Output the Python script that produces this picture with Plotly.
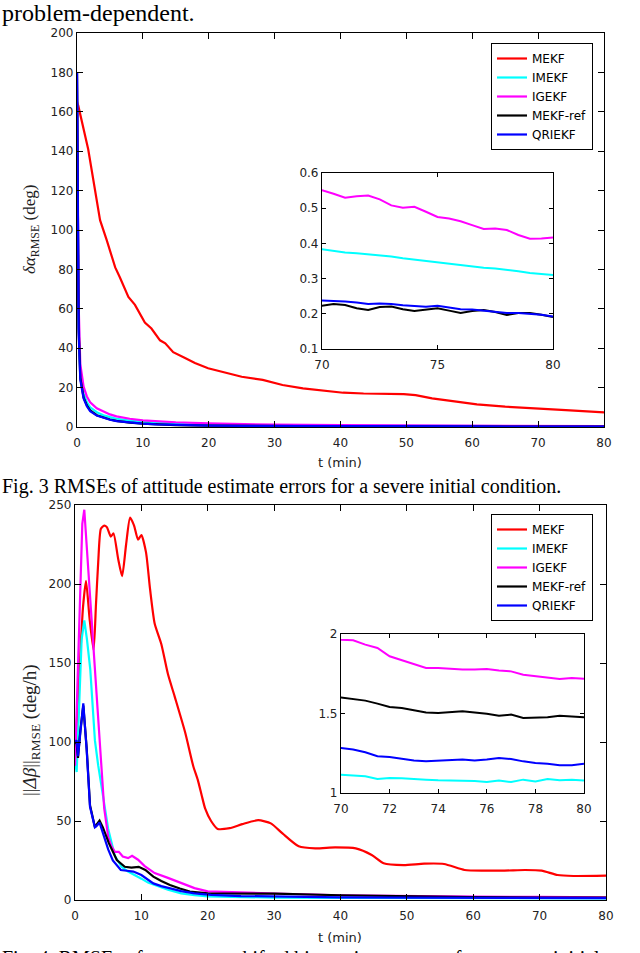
import plotly.graph_objects as go

W, H = 640, 953

# Fig. 3: attitude estimate RMSE (deg)
t_att_mekf = [0, 0.2, 1.7, 2.7, 3.5, 4.5, 5.8, 6.5, 7.8, 8.8, 10.3, 11.3, 12.6, 13.4, 14.6,
              16.4, 17.9, 19.9, 22, 25, 28.2, 31.2, 34.3, 37.4, 40.4, 43.5, 46.6, 49.6,
              51.4, 53.9, 57.6, 60.7, 65, 69.9, 74.2, 80]
att_mekf = [165, 163, 141, 120, 105, 95, 81, 76, 66, 62, 53, 50, 44, 42.5, 38,
            35, 32.5, 29.8, 28, 25.5, 23.9, 21.3, 19.6, 18.4, 17.4, 17, 16.8, 16.7,
            16.2, 14.5, 12.9, 11.5, 10.3, 9.5, 8.6, 7.4]

t_att = [0, 0.1, 0.25, 0.5, 0.75, 1, 1.5, 2, 3, 4, 5, 6, 8, 10, 12, 15, 20, 25, 30, 40, 50, 60,
         70, 70.5, 71, 71.5, 72, 72.5, 73, 73.5, 74, 74.5, 75, 75.5, 76, 76.5, 77, 77.5,
         78, 78.5, 79, 79.5, 80]
att_imekf = [180, 110, 55, 28, 21, 17, 12.5, 10, 7.5, 6, 5, 4.2, 3.2, 2.6, 2.2, 1.8, 1.3, 1.0,
             0.85, 0.7, 0.58, 0.48,
             0.382, 0.377, 0.374, 0.372, 0.369, 0.368, 0.363, 0.358, 0.354, 0.350, 0.346,
             0.342, 0.338, 0.334, 0.331, 0.329, 0.326, 0.321, 0.316, 0.314, 0.310]
att_igekf = [180, 120, 62, 32, 25, 20.5, 15.5, 12.5, 9.5, 7.8, 6.4, 5.4, 4.2, 3.4, 2.9, 2.4,
             1.8, 1.45, 1.2, 0.95, 0.8, 0.68,
             0.551, 0.541, 0.530, 0.534, 0.536, 0.525, 0.508, 0.501, 0.504, 0.490, 0.475,
             0.471, 0.463, 0.452, 0.441, 0.442, 0.438, 0.424, 0.413, 0.414, 0.417]
att_mekf_ref = [180, 100, 50, 25, 19, 15, 11, 8.5, 6, 4.8, 3.8, 3.1, 2.2, 1.7, 1.3, 1.0, 0.7,
                0.55, 0.45, 0.35, 0.3, 0.26,
                0.223, 0.228, 0.225, 0.216, 0.211, 0.219, 0.221, 0.213, 0.208, 0.211, 0.216,
                0.209, 0.202, 0.208, 0.211, 0.205, 0.197, 0.202, 0.202, 0.197, 0.191]
att_qriekf = [180, 98, 48, 24, 18.5, 14.5, 10.5, 8, 5.8, 4.6, 3.7, 3.0, 2.2, 1.7, 1.3, 1.0,
              0.72, 0.56, 0.47, 0.37, 0.31, 0.27,
              0.238, 0.237, 0.235, 0.232, 0.228, 0.229, 0.228, 0.224, 0.221, 0.220, 0.223,
              0.219, 0.213, 0.212, 0.209, 0.207, 0.202, 0.202, 0.200, 0.197, 0.192]

# Fig. 4: gyro bias estimate RMSE (deg/h)
t_inset = [70, 70.5, 71, 71.5, 72, 72.5, 73, 73.5, 74, 74.5, 75, 75.5, 76, 76.5, 77, 77.5,
           78, 78.5, 79, 79.5, 80]

t_bias_mekf = [0, 0.3, 0.65, 1.2, 1.66, 2.2, 2.8, 3.16, 3.5, 3.9, 4.4, 4.8, 5.4, 5.8, 6.5,
               7.1, 7.7, 8.3, 8.9, 9.5, 10.0, 10.7, 11.3, 12.0, 13.0, 14.0, 15.0, 16.6,
               17.8, 18.5, 19.1, 19.6, 20.5, 21.5, 23.3, 25.2, 27.6, 29.5, 31.3, 33.7,
               36.2, 39.2, 42.3, 44.7, 46.5, 49.5, 52.6, 55.6, 58.7, 61.7, 64.7, 67.8,
               70.3, 72.7, 75.1, 80]
bias_mekf = [95, 115, 142, 185, 202, 178, 158, 187, 214, 235, 237, 236, 230, 232, 216,
             205, 225, 242, 237, 228, 231, 220, 197, 175, 162, 143, 129, 106,
             85, 76, 66, 58, 50, 45, 45.5, 48, 50.5, 48.5, 42, 34,
             32.7, 33.3, 32.7, 28.5, 23.2, 22.1, 23, 22.8, 19, 18.6, 18.6, 19,
             18.6, 15.8, 15.2, 15.4]

t_bias_imekf = [0, 0.25, 0.6, 1.0, 1.4, 1.8, 2.3, 3.0, 3.5, 4.0, 4.5, 5.0, 6.0, 7.0, 8.0,
                9.0, 10, 11, 12, 14, 16, 18, 20, 25, 30, 40, 50, 60] + t_inset
bias_imekf = [88, 81, 120, 165, 177, 165, 146, 101, 85, 72, 57, 45, 28, 21, 18,
              16, 13.5, 11, 9.5, 6.5, 4.2, 3, 2.3, 1.8, 1.5, 1.3, 1.2, 1.15,
              1.115, 1.111, 1.105, 1.088, 1.094, 1.092, 1.090, 1.084, 1.080, 1.078, 1.078,
              1.075, 1.069, 1.078, 1.069, 1.084, 1.073, 1.088, 1.080, 1.084, 1.078]

t_bias_igekf = [0, 0.4, 0.8, 1.1, 1.4, 1.8, 2.2, 2.8, 3.5, 4.0, 4.4, 5.0, 5.5, 6.0, 6.6,
                7.2, 8.0, 8.6, 9.5, 10.5, 12, 14, 16, 18, 20, 25, 30, 40, 50, 60] + t_inset
bias_igekf = [85, 140, 205, 238, 247, 222, 195, 158, 112, 80, 58, 40, 34, 30.5, 30.5,
              27.5, 26.5, 28, 25.5, 21.5, 17, 14, 11, 7.5, 5.5, 4.6, 4.1, 3.0, 2.4, 2.1,
              1.964, 1.960, 1.933, 1.912, 1.860, 1.834, 1.807, 1.786, 1.786, 1.780, 1.776,
              1.776, 1.780, 1.771, 1.765, 1.744, 1.734, 1.723, 1.717, 1.723, 1.719]

t_bias_ref = [0, 0.25, 0.45, 0.8, 1.25, 1.76, 2.26, 3.0, 3.3, 3.7, 4.2, 5.1, 6.3, 7.5, 8.5,
              9.6, 10.6, 11.8, 13, 14.3, 15.8, 17.3, 20, 25, 30, 40, 50, 60] + t_inset
bias_mekf_ref = [100, 99, 90, 107, 123, 96, 60, 46, 48, 50.2, 46, 36, 25.3, 21, 20.5,
                 21, 19, 14.8, 12, 9.5, 7.3, 5.3, 4.2, 4.1, 4, 3, 2.2, 1.8,
                 1.597, 1.587, 1.581, 1.562, 1.541, 1.535, 1.520, 1.507, 1.503, 1.507, 1.514,
                 1.507, 1.499, 1.486, 1.493, 1.472, 1.472, 1.476, 1.486, 1.482, 1.476]

t_bias_qr = [0, 0.25, 0.45, 0.8, 1.25, 1.76, 2.26, 3.0, 3.3, 3.7, 4.2, 5.0, 5.7, 6.9, 7.8,
             8.8, 10, 11, 11.8, 13, 14.3, 16, 18, 20.5, 25, 30, 40, 50, 60] + t_inset
bias_qriekf = [100, 101, 91, 108, 124.5, 95, 59, 46, 47, 49, 42, 32, 25, 19, 18.5,
               18, 15.8, 13, 10.5, 8.8, 7.4, 5.6, 4.2, 3.2, 2.5, 2.1, 1.7, 1.5, 1.35,
               1.283, 1.273, 1.256, 1.231, 1.227, 1.214, 1.205, 1.199, 1.203, 1.205, 1.210,
               1.205, 1.210, 1.220, 1.214, 1.199, 1.189, 1.184, 1.174, 1.174, 1.184]

names = ["MEKF", "IMEKF", "IGEKF", "MEKF-ref", "QRIEKF"]
colors = ["#ff0000", "#00ffff", "#ff00ff", "#000000", "#0000ff"]

SANS = "DejaVu Sans"
SERIF = "Liberation Serif"


# pixel boxes -> paper fractions
def px_x(a, b):
    return [a / W, b / W]


def px_y(top, bottom):
    return [1 - bottom / H, 1 - top / H]


fig = go.Figure()

top_series = [
    (t_att_mekf, att_mekf),
    (t_att, att_imekf),
    (t_att, att_igekf),
    (t_att, att_mekf_ref),
    (t_att, att_qriekf),
]
bottom_series = [
    (t_bias_mekf, bias_mekf),
    (t_bias_imekf, bias_imekf),
    (t_bias_igekf, bias_igekf),
    (t_bias_ref, bias_mekf_ref),
    (t_bias_qr, bias_qriekf),
]

for (tx, ty), name, c in zip(top_series, names, colors):
    fig.add_trace(go.Scatter(x=tx, y=ty, mode="lines", name=name, legend="legend",
                             line=dict(color=c, width=2.2), xaxis="x", yaxis="y"))
for (tx, ty), name, c in zip(top_series, names, colors):
    fig.add_trace(go.Scatter(x=tx, y=ty, mode="lines", name=name, showlegend=False,
                             line=dict(color=c, width=2), xaxis="x2", yaxis="y2"))
for i, ((tx, ty), name, c) in enumerate(zip(bottom_series, names, colors)):
    # the MEKF humps are smooth in the original, the rest stay straight-segmented
    shape = "spline" if i == 0 else "linear"
    fig.add_trace(go.Scatter(x=tx, y=ty, mode="lines", name=name, legend="legend2",
                             line=dict(color=c, width=2.2, shape=shape, smoothing=0.6),
                             xaxis="x3", yaxis="y3"))
for (tx, ty), name, c in zip(bottom_series, names, colors):
    fig.add_trace(go.Scatter(x=tx, y=ty, mode="lines", name=name, showlegend=False,
                             line=dict(color=c, width=2), xaxis="x4", yaxis="y4"))


def axis(domain, rng, tickvals, anchor, ticklen=6, standoff=None):
    d = dict(domain=domain, range=rng, tickvals=tickvals, anchor=anchor,
             automargin=False,
             showline=True, linecolor="#000", linewidth=1.2, mirror="ticks",
             ticks="inside", ticklen=ticklen, tickcolor="#000", tickwidth=1,
             showgrid=False, zeroline=False,
             tickfont=dict(family=SANS, size=12, color="#222"))
    if standoff is not None:
        d["ticklabelstandoff"] = standoff
    return d


legend_style = dict(xanchor="right", yanchor="top", bgcolor="white",
                    bordercolor="#000", borderwidth=1,
                    font=dict(family=SANS, size=12, color="#000"),
                    tracegroupgap=0, itemwidth=30)

fig.update_layout(
    width=W, height=H, margin=dict(l=0, r=0, t=0, b=0, autoexpand=False),
    paper_bgcolor="white", plot_bgcolor="white",
    xaxis=axis(px_x(77, 604), [0, 80], list(range(0, 81, 10)), "y", standoff=4),
    yaxis=axis(px_y(33, 427), [0, 200], list(range(0, 201, 20)), "x"),
    xaxis2=axis(px_x(322, 553), [70, 80], [70, 75, 80], "y2", ticklen=4, standoff=4),
    yaxis2=axis(px_y(173, 349), [0.1, 0.6], [0.1, 0.2, 0.3, 0.4, 0.5, 0.6], "x2",
                ticklen=4),
    xaxis3=axis(px_x(75, 606), [0, 80], list(range(0, 81, 10)), "y3", standoff=4),
    yaxis3=axis(px_y(505, 900), [0, 250], [0, 50, 100, 150, 200, 250], "x3"),
    xaxis4=axis(px_x(341, 584), [70, 80], [70, 72, 74, 76, 78, 80], "y4", ticklen=4,
                standoff=4),
    yaxis4=axis(px_y(634, 793), [1, 2], [1, 1.5, 2], "x4", ticklen=4),
    legend=dict(x=593 / W, y=1 - 43 / H, **legend_style),
    legend2=dict(x=593 / W, y=1 - 514 / H, **legend_style),
    showlegend=True,
)

annotations = [
    dict(text="problem-dependent.", x=0, y=1 - 13 / H, xanchor="left", yanchor="middle",
         font=dict(family=SERIF, size=24, color="#000")),
    dict(text="Fig. 3 RMSEs of attitude estimate errors for a severe initial condition.",
         x=0, y=1 - 486 / H, xanchor="left", yanchor="middle",
         font=dict(family=SERIF, size=20, color="#000")),
    dict(text="Fig. 4. RMSEs of gyroscope shifted bias estimate errors for a severe initial",
         x=0, y=1 - 945 / H, xanchor="left", yanchor="top",
         font=dict(family=SERIF, size=20, color="#000")),
    dict(text="t (min)", x=340 / W, y=1 - 462 / H, xanchor="center", yanchor="middle",
         font=dict(family=SANS, size=13, color="#222")),
    dict(text="t (min)", x=340 / W, y=1 - 937 / H, xanchor="center", yanchor="middle",
         font=dict(family=SANS, size=13, color="#222")),
    dict(text="<i>δα</i><sub>RMSE</sub> (deg)", x=31 / W, y=1 - 230 / H,
         xanchor="center", yanchor="middle", textangle=-90,
         font=dict(family=SERIF, size=17, color="#222")),
    dict(text="||<i>Δβ</i>||<sub>RMSE</sub> (deg/h)", x=31 / W, y=1 - 730 / H,
         xanchor="center", yanchor="middle", textangle=-90,
         font=dict(family=SERIF, size=19, color="#222")),
]
for a in annotations:
    a.update(xref="paper", yref="paper", showarrow=False)
fig.update_layout(annotations=annotations)

# drop the default 8px page margin so the figure sits at the window's corner
fig.write_html("out.html", config={"displayModeBar": False},
               post_script="document.body.style.margin = '0px';")
